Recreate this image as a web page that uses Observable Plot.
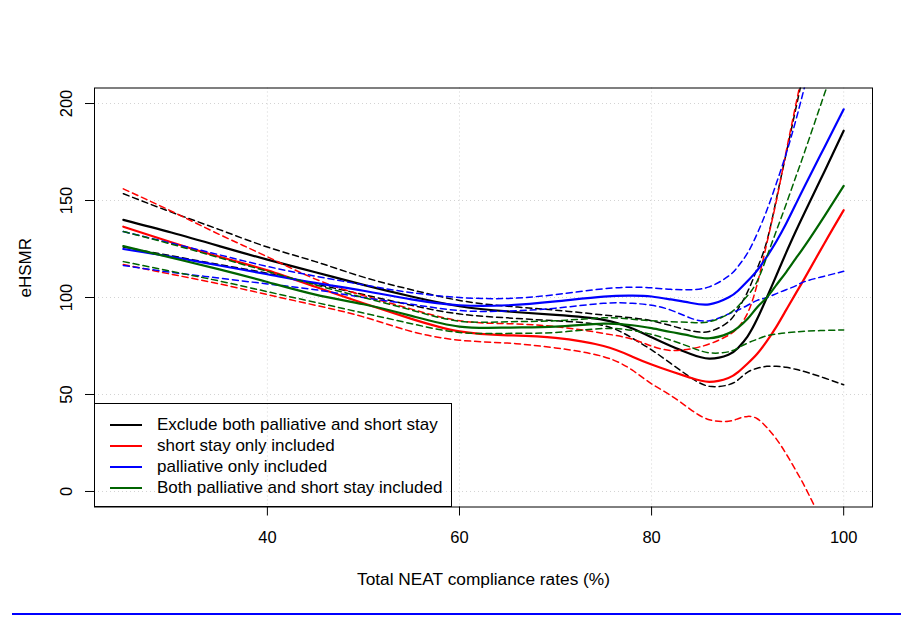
<!DOCTYPE html>
<html>
<head>
<meta charset="utf-8">
<script src="https://cdn.jsdelivr.net/npm/d3@7"></script>
<script src="https://cdn.jsdelivr.net/npm/@observablehq/plot@0.6"></script>
<style>
  html, body { margin: 0; padding: 0; background: #fff; }
  #wrap { position: relative; width: 902px; height: 629px; font-family: "Liberation Sans", Arial, sans-serif; }
  #legend { position: absolute; left: 94px; top: 403px; width: 358px; height: 103.5px; border: 1px solid #000; box-sizing: border-box; }
  .row { position: absolute; left: 0; height: 0; }
  .swatch { position: absolute; left: 15px; width: 32px; height: 2px; top: -1px; }
  .lab { position: absolute; left: 62px; top: -11px; font-size: 17px; line-height: 21px; white-space: nowrap; color: #000; }
  #rule { position: absolute; left: 12px; top: 613px; width: 889px; height: 2px; background: #0000ff; }
</style>
</head>
<body>
<div id="wrap"></div>
<script>
// ---- data ----
const xs = [25, 30, 35, 40, 45, 50, 55, 60, 65, 70, 75, 78, 80, 82, 84, 86, 88, 89, 90, 91, 92, 93, 94, 95, 96, 98, 100];

const excludeFit   = [140, 133.5, 126.5, 119.5, 113, 106.5, 100.5, 95.5, 92.8, 91, 88.5, 84, 79.5, 75, 71, 68.5, 70.5, 74, 80, 89, 100, 111.5, 123, 134, 144.5, 165, 186];
const excludeUpper = [153.5, 144, 135, 126, 118.5, 110.5, 104, 98.5, 95.5, 93.5, 91, 89.5, 88, 85.5, 83, 82.5, 87.5, 94, 103, 115, 129, 151, 174, 197, 220, null, null];
const excludeLower = [126, 121.5, 117, 112.5, 107, 101.5, 96, 91.5, 89.5, 88, 85.5, 79, 73, 66, 59, 54.2, 55, 57.5, 61.5, 63.5, 64.5, 64.5, 64, 63, 61.7, 58.5, 55];

const shortFit   = [136.5, 128.5, 121, 114, 105.5, 97, 89, 82.5, 80.5, 79.2, 75, 69.5, 65.5, 62, 58.7, 56.5, 58.5, 61.5, 66, 71, 77.5, 85, 93.5, 102, 110.5, 128, 145];
const shortUpper = [156, 144.5, 132.5, 121, 109.5, 101, 94, 88, 86.5, 85, 81.5, 78.5, 75, 72.7, 73.5, 76, 80.5, 84.5, 92, 107, 128, 150, 175, 199, 223, null, null];
const shortLower = [117, 112, 107, 101.5, 96, 90, 82.5, 78, 76.5, 74, 69.5, 62.5, 55.5, 49.5, 42.5, 37, 36.2, 37.5, 38.7, 37.5, 33, 27, 19.5, 11, 2, -18, null];

const pallFit   = [125, 121, 116.5, 112, 107.5, 103.5, 99, 96, 96, 98, 100.5, 101, 100.5, 99, 97.3, 96.5, 100, 103.5, 108.5, 114, 121, 129, 138, 148, 158, 177.5, 197];
const pallUpper = [134, 128, 122, 116, 111, 106.5, 102.5, 100, 99.5, 101.5, 104.5, 105.3, 105, 104.2, 104, 105.5, 111, 116, 123, 133, 145, 159, 174, 191, 210, null, null];
const pallLower = [116.5, 113, 110, 107, 104, 100, 96.5, 93.3, 93, 94.5, 97, 97, 96, 93.5, 89.5, 88, 91.5, 93.5, 96, 98.5, 100, 102, 104, 106, 108.3, 111, 113.5];

const bothFit   = [126.5, 120.5, 114.5, 108, 101.5, 96.5, 90.5, 85, 84.5, 85, 86.5, 85.7, 84.2, 82.2, 80.3, 79, 81.5, 84.5, 89, 95, 100, 106.5, 113, 120, 127, 142, 157.5];
const bothUpper = [134, 127.5, 120.5, 113.5, 106.5, 100, 93.5, 87.8, 87.5, 88, 89.5, 88.8, 88, 87.5, 87.2, 87.5, 91.5, 95.5, 101, 108.5, 121, 134.5, 148, 162, 176, 205, 234];
const bothLower = [118.5, 113.5, 108.5, 103, 97.5, 92, 86.5, 82, 81.5, 82, 84, 83, 81, 78, 74.5, 71.5, 72, 74, 76.5, 78.5, 80.3, 81.2, 81.8, 82.2, 82.6, 83, 83.3];

const seriesNames  = ["Exclude both palliative and short stay", "short stay only included", "palliative only included", "Both palliative and short stay included"];
const seriesColors = ["#000000", "#ff0000", "#0000ff", "#006400"];
const xTicks = [40, 60, 80, 100];
const yTicks = [0, 50, 100, 150, 200];
const xLabel = "Total NEAT compliance rates (%)";
const yLabel = "eHSMR";

// ---- build long table ----
const groups = [
  [excludeFit, excludeUpper, excludeLower],
  [shortFit, shortUpper, shortLower],
  [pallFit, pallUpper, pallLower],
  [bothFit, bothUpper, bothLower]
];
const kinds = ["fit", "upper", "lower"];
const rows = [];
groups.forEach((g, si) => {
  g.forEach((arr, ki) => {
    arr.forEach((v, i) => {
      rows.push({x: xs[i], y: v, series: seriesNames[si], kind: kinds[ki], key: si + "-" + kinds[ki]});
    });
  });
});

const lineMarks = [];
seriesNames.forEach((name, si) => {
  const color = seriesColors[si];
  lineMarks.push(Plot.line(rows.filter(r => r.series === name && r.kind !== "fit"), {
    x: "x", y: "y", z: "key", stroke: color, strokeWidth: 1.5, strokeDasharray: "6,4",
    curve: "natural", clip: true
  }));
  lineMarks.push(Plot.line(rows.filter(r => r.series === name && r.kind === "fit"), {
    x: "x", y: "y", stroke: color, strokeWidth: 2.2, curve: "natural", clip: true
  }));
});

const chart = Plot.plot({
  width: 902,
  height: 629,
  marginLeft: 94,
  marginRight: 30,
  marginTop: 87.5,
  marginBottom: 122.5,
  x: {domain: [22, 103]},
  y: {domain: [-8, 208]},
  style: {fontFamily: "'Liberation Sans', Arial, sans-serif", fontSize: "16px", background: "#fff", color: "#000"},
  marks: [
    Plot.gridX(xTicks, {stroke: "#d3d3d3", strokeOpacity: 1, strokeDasharray: "1,3"}),
    Plot.gridY(yTicks, {stroke: "#d3d3d3", strokeOpacity: 1, strokeDasharray: "1,3"}),
    ...lineMarks,
    Plot.frame({stroke: "#000", strokeWidth: 1}),
    Plot.axisX(xTicks, {tickSize: 9, tickPadding: 15, fontSize: 16.5, label: null, tickFormat: d => String(d)}),
    Plot.axisY(yTicks, {tickSize: 9, tickRotate: -90, tickPadding: 14, fontSize: 16.5, label: null, tickFormat: d => String(d)}),
    Plot.text([xLabel], {text: d => d, frameAnchor: "bottom", dy: 72.5, fontSize: 17.3, lineAnchor: "middle"}),
    Plot.text([yLabel], {text: d => d, frameAnchor: "left", dx: -69, rotate: -90, fontSize: 17, lineAnchor: "middle"})
  ]
});

const wrap = document.getElementById("wrap");
wrap.appendChild(chart);

// legend
const legend = document.createElement("div");
legend.id = "legend";
const rowTops = [21.3, 42, 63, 83.7];
seriesNames.forEach((name, i) => {
  const r = document.createElement("div");
  r.className = "row";
  r.style.top = rowTops[i] + "px";
  const sw = document.createElement("div");
  sw.className = "swatch";
  sw.style.background = seriesColors[i];
  const lb = document.createElement("div");
  lb.className = "lab";
  lb.textContent = name;
  r.appendChild(sw);
  r.appendChild(lb);
  legend.appendChild(r);
});
wrap.appendChild(legend);

const rule = document.createElement("div");
rule.id = "rule";
wrap.appendChild(rule);
</script>
</body>
</html>
